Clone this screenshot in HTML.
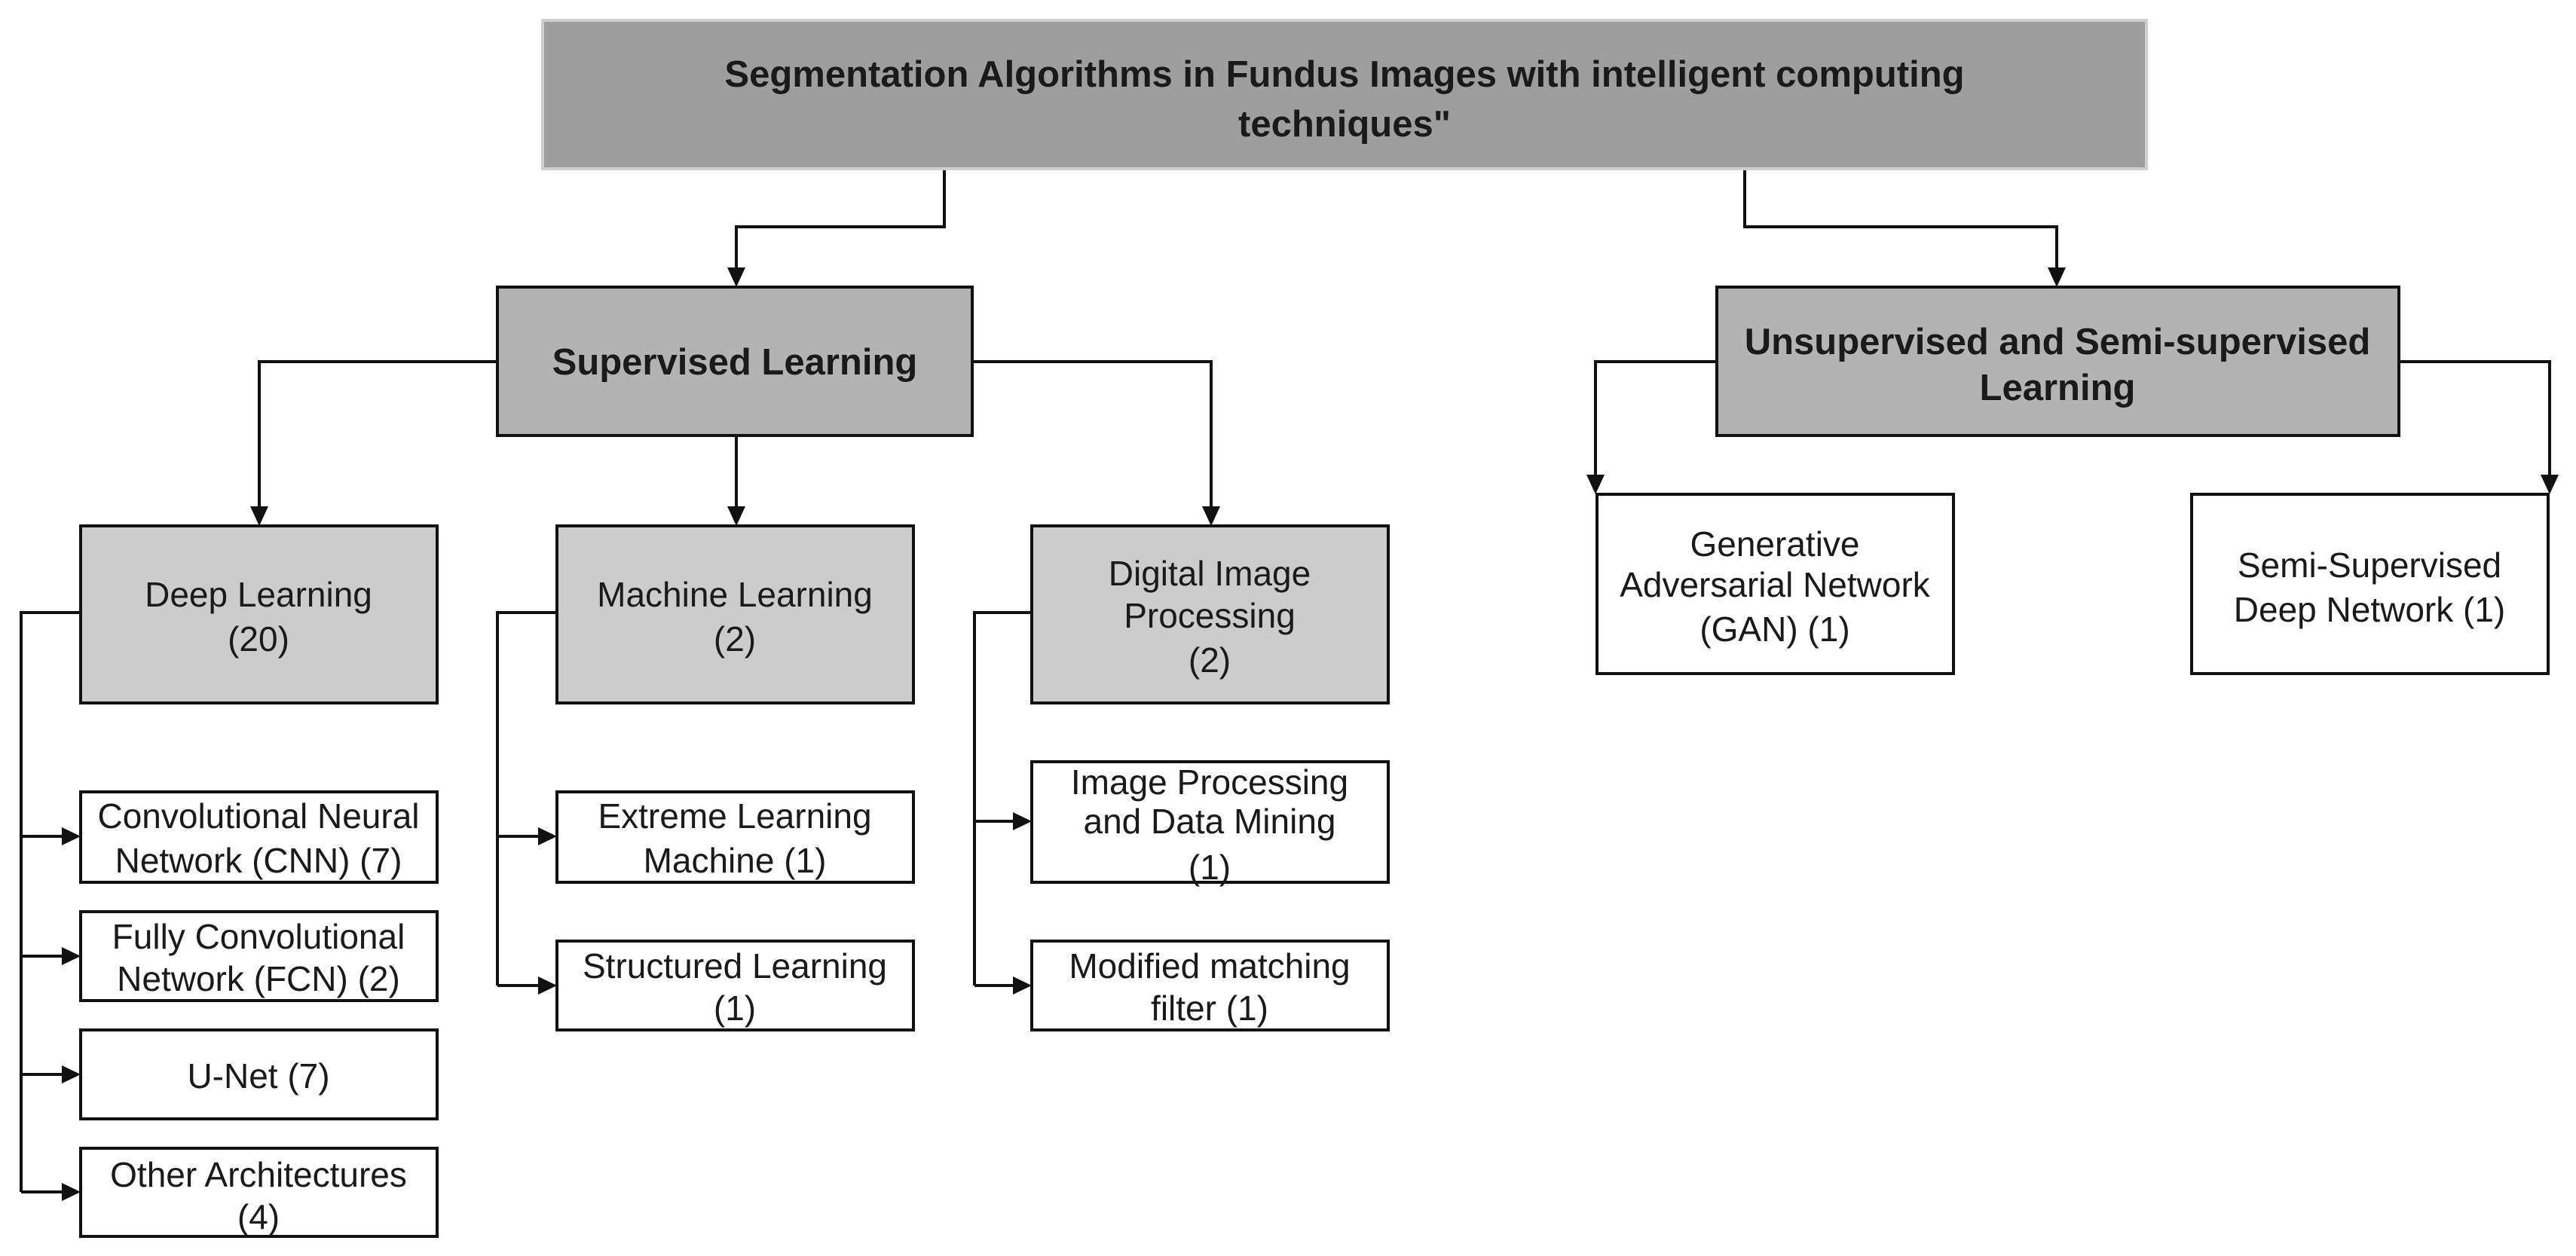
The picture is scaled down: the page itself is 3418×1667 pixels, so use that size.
<!DOCTYPE html>
<html><head><meta charset="utf-8"><style>
html,body{margin:0;padding:0;background:#fff}
svg{display:block}
text{font-family:"Liberation Sans",sans-serif;fill:#1a1a1a;text-anchor:middle}
.b{font-weight:bold;font-size:49px}
.r{font-size:46px}
</style></head><body>
<svg width="3418" height="1667" viewBox="0 0 3418 1667" xmlns="http://www.w3.org/2000/svg">
<defs>
<marker id="a" viewBox="0 0 10 10" refX="10" refY="5" markerWidth="9" markerHeight="9" markerUnits="userSpaceOnUse" orient="auto">
</marker>
</defs>
<g fill="none" stroke="#111" stroke-width="4">
<!-- title to supervised -->
<polyline points="1253,225 1253,301 977,301 977,357"/>
<polyline points="2315,225 2315,301 2729,301 2729,357"/>
<!-- supervised children -->
<polyline points="660,480 344,480 344,674"/>
<polyline points="977,578 977,674"/>
<polyline points="1290,480 1607,480 1607,674"/>
<!-- unsup children -->
<polyline points="2278,480 2117,480 2117,632"/>
<polyline points="3183,480 3383,480 3383,632"/>
<!-- deep spine -->
<polyline points="107,813 28,813 28,1582"/>
<line x1="28" y1="1110" x2="84" y2="1110"/>
<line x1="28" y1="1269" x2="84" y2="1269"/>
<line x1="28" y1="1426" x2="84" y2="1426"/>
<line x1="28" y1="1582" x2="84" y2="1582"/>
<!-- ML spine -->
<polyline points="739,813 660,813 660,1308"/>
<line x1="660" y1="1110" x2="716" y2="1110"/>
<line x1="660" y1="1308" x2="716" y2="1308"/>
<!-- DIP spine -->
<polyline points="1369,813 1293,813 1293,1308"/>
<line x1="1293" y1="1090" x2="1346" y2="1090"/>
<line x1="1293" y1="1308" x2="1346" y2="1308"/>
</g>
<g fill="#111">
<polygon points="965,355 989,355 977,381"/>
<polygon points="2717,355 2741,355 2729,381"/>
<polygon points="332,672 356,672 344,698"/>
<polygon points="965,672 989,672 977,698"/>
<polygon points="1595,672 1619,672 1607,698"/>
<polygon points="2105,630 2129,630 2117,656"/>
<polygon points="3371,630 3395,630 3383,656"/>
<polygon points="82,1098 82,1122 107,1110"/>
<polygon points="82,1257 82,1281 107,1269"/>
<polygon points="82,1414 82,1438 107,1426"/>
<polygon points="82,1570 82,1594 107,1582"/>
<polygon points="714,1098 714,1122 739,1110"/>
<polygon points="714,1296 714,1320 739,1308"/>
<polygon points="1344,1078 1344,1102 1369,1090"/>
<polygon points="1344,1296 1344,1320 1369,1308"/>
</g>
<!-- boxes -->
<rect x="720" y="27" width="2128" height="197" fill="#9e9e9e" stroke="#cfcfcf" stroke-width="4"/>
<g stroke="#111" stroke-width="4">
<rect x="660" y="381" width="630" height="197" fill="#b3b3b3"/>
<rect x="2278" y="381" width="905" height="197" fill="#b3b3b3"/>
<rect x="107" y="698" width="473" height="235" fill="#cccccc"/>
<rect x="739" y="698" width="473" height="235" fill="#cccccc"/>
<rect x="1369" y="698" width="473" height="235" fill="#cccccc"/>
<rect x="2119" y="656" width="473" height="238" fill="#fff"/>
<rect x="2908" y="656" width="473" height="238" fill="#fff"/>
<rect x="107" y="1051" width="473" height="120" fill="#fff"/>
<rect x="107" y="1210" width="473" height="118" fill="#fff"/>
<rect x="107" y="1367" width="473" height="118" fill="#fff"/>
<rect x="107" y="1524" width="473" height="117" fill="#fff"/>
<rect x="739" y="1051" width="473" height="120" fill="#fff"/>
<rect x="739" y="1249" width="473" height="118" fill="#fff"/>
<rect x="1369" y="1011" width="473" height="160" fill="#fff"/>
<rect x="1369" y="1249" width="473" height="118" fill="#fff"/>
</g>
<!-- text -->
<text class="b" x="1784" y="115">Segmentation Algorithms in Fundus Images with intelligent computing</text>
<text class="b" x="1784" y="181">techniques"</text>
<text class="b" x="975" y="497">Supervised Learning</text>
<text class="b" x="2730" y="470">Unsupervised and Semi-supervised</text>
<text class="b" x="2730" y="531">Learning</text>
<text class="r" x="343" y="805">Deep Learning</text>
<text class="r" x="343" y="864">(20)</text>
<text class="r" x="975" y="805">Machine Learning</text>
<text class="r" x="975" y="864">(2)</text>
<text class="r" x="1605" y="777">Digital Image</text>
<text class="r" x="1605" y="833">Processing</text>
<text class="r" x="1605" y="892">(2)</text>
<text class="r" x="2355" y="738">Generative</text>
<text class="r" x="2355" y="792">Adversarial Network</text>
<text class="r" x="2355" y="851">(GAN) (1)</text>
<text class="r" x="3144" y="766">Semi-Supervised</text>
<text class="r" x="3144" y="825">Deep Network (1)</text>
<text class="r" x="343" y="1099">Convolutional Neural</text>
<text class="r" x="343" y="1158">Network (CNN) (7)</text>
<text class="r" x="343" y="1259">Fully Convolutional</text>
<text class="r" x="343" y="1315">Network (FCN) (2)</text>
<text class="r" x="343" y="1444">U-Net (7)</text>
<text class="r" x="343" y="1575">Other Architectures</text>
<text class="r" x="343" y="1631">(4)</text>
<text class="r" x="975" y="1099">Extreme Learning</text>
<text class="r" x="975" y="1158">Machine (1)</text>
<text class="r" x="975" y="1298">Structured Learning</text>
<text class="r" x="975" y="1354">(1)</text>
<text class="r" x="1605" y="1054">Image Processing</text>
<text class="r" x="1605" y="1106">and Data Mining</text>
<text class="r" x="1605" y="1167">(1)</text>
<text class="r" x="1605" y="1298">Modified matching</text>
<text class="r" x="1605" y="1354">filter (1)</text>
</svg>
</body></html>
